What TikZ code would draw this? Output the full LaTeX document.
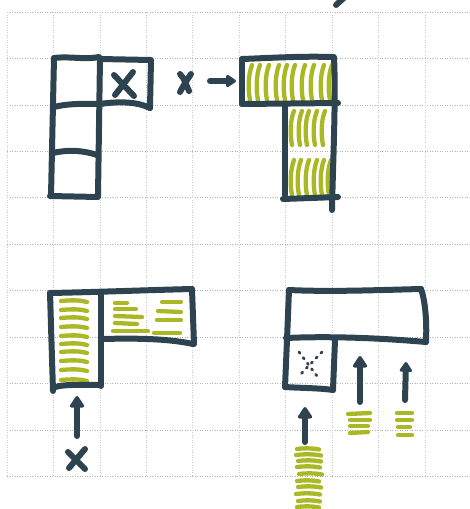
\documentclass[tikz,border=0pt]{standalone}
\usetikzlibrary{arrows.meta}
\definecolor{ink}{HTML}{2D434F}
\definecolor{lime}{HTML}{A9B824}
\begin{document}
\begin{tikzpicture}[x=1pt,y=-1pt,
  gridh/.style={draw=gray!60, line width=0.7pt, dash pattern=on 1.2pt off 1.3pt},
  gridv/.style={draw=gray!40, line width=0.7pt, dash pattern=on 1.2pt off 1.3pt},
  pen/.style={draw=ink, line width=6pt, line cap=round, line join=round},
  dotx/.style={draw=ink, line width=2.8pt, line cap=round, dash pattern=on 1.5pt off 5.5pt},
  hatch/.style={draw=lime, line width=4.3pt, line cap=round},
  arr/.style={pen, -{Triangle[length=13pt,width=16pt,round]}},
  arrs/.style={pen, -{Triangle[length=11pt,width=14pt,round]}},
]
\useasboundingbox (0,0) rectangle (470,509);
% grid
\foreach \k in {0,...,10} \draw[gridh] (7,{12+46.45*\k}) -- (470,{12+46.45*\k});
\foreach \k in {0,...,9} \draw[gridv] ({7+46.45*\k},12) -- ({7+46.45*\k},477);

% mark at top edge
\draw[pen] (336,5) -- (346,-4);

% ---------- top-left figure ----------
\draw[pen] (54,58) .. controls (70,56) and (85,60) .. (99,57);
\draw[pen] (100,59) -- (151,60) -- (150,108);
\draw[pen] (100,104) .. controls (120,101) and (138,102) .. (150,108);
\draw[pen] (54,58) -- (51,196);
\draw[pen] (100,58) -- (98,196);
\draw[pen] (54,107) .. controls (70,103) and (85,104) .. (100,104);
\draw[pen] (53,153) .. controls (70,149) and (85,151) .. (97,155);
\draw[pen] (50,196) -- (98,197);
\draw[pen] (114,75) -- (134,96);
\draw[pen] (133,72) -- (115,95);

% x ->
\draw[pen] (180,74) .. controls (185,79) and (186,85) .. (189,91);
\draw[pen] (191,74) .. controls (187,80) and (183,86) .. (180,92);
\coordinate (a0s) at (210,81);
\coordinate (a0e) at (236,81);
\draw[arrs] (a0s) -- (a0e);

% ---------- top-right figure ----------
\foreach \x in {250,258,267,277,285,293,303,312,322,330}
  \draw[hatch] (\x+2,65) .. controls (\x-2,75) and (\x-2,90) .. (\x,100);
\foreach \x in {292,300,307,315,323}
  \draw[hatch] (\x+2,111) .. controls (\x-2,120) and (\x-2,135) .. (\x,145);
\foreach \x in {292,299,307,315,322,329}
  \draw[hatch] (\x+2,160) .. controls (\x-2,170) and (\x-2,185) .. (\x,195);
\draw[pen] (242,59) .. controls (270,58) and (300,56) .. (332,57);
\draw[pen] (242,59) -- (242,104);
\draw[pen] (242,104) -- (338,103);
\draw[pen] (334,57) .. controls (336,100) and (333,160) .. (332,210);
\draw[pen] (285,105) -- (285,195);
\draw[pen] (283,199) -- (338,197);

% ---------- bottom-left figure ----------
\foreach \y in {301,310,318,327,336,344,352,361,370,380}
  \draw[hatch] (61,\y) .. controls (72,\y-1) and (80,\y-1) .. (87,\y+1);
\draw[hatch] (115,303) -- (127,303);
\draw[hatch] (115,309) -- (136,309);
\draw[hatch] (115,316) -- (142,317);
\draw[hatch] (115,323) -- (137,324);
\draw[hatch] (113,331) -- (148,331);
\draw[hatch] (162,302) -- (181,302);
\draw[hatch] (158,311) -- (181,312);
\draw[hatch] (157,320) -- (181,320);
\draw[hatch] (154,333) -- (180,333);
\draw[pen] (50,293) .. controls (100,292) and (150,290) .. (192,289);
\draw[pen] (192,289) -- (194,344);
\draw[pen] (102,339) .. controls (140,338) and (170,339) .. (193,344);
\draw[pen] (50,293) -- (53,391);
\draw[pen] (101,293) -- (101,386);
\draw[pen] (53,388) .. controls (60,384) and (80,385) .. (101,385);
\coordinate (a1s) at (77,436);
\coordinate (a1e) at (77,396);
\draw[arr] (a1s) -- (a1e);
\draw[pen] (68,452) -- (85,469);
\draw[pen] (85,449) -- (69,468);

% ---------- bottom-right figure ----------
\draw[pen] (289,290) .. controls (330,292) and (380,290) .. (421,289);
\draw[pen] (421,289) .. controls (425,300) and (427,320) .. (426,342);
\draw[pen] (289,290) -- (287,340) -- (285,387);
\draw[pen] (286,338) .. controls (330,336) and (380,338) .. (426,342);
\draw[pen] (335,340) -- (333,390);
\draw[pen] (285,387) .. controls (300,388) and (320,388) .. (333,390);
\draw[dotx] (299,352) -- (320,380);
\draw[dotx] (322,352) -- (298,377);
\coordinate (a2s) at (305,442);
\coordinate (a2e) at (305,407);
\coordinate (a3s) at (360,402);
\coordinate (a3e) at (360,356);
\coordinate (a4s) at (405,400);
\coordinate (a4e) at (406,362);
\draw[arr] (a2s) -- (a2e);
\draw[arr] (a3s) -- (a3e);
\draw[arrs] (a4s) -- (a4e);
\foreach \y/\a/\b in {449/297/319, 455/296/321, 461/298/321, 467/297/320, 474/299/322, 481/297/319, 487/298/321, 494/296/320, 501/298/320, 507/297/319}
  \draw[hatch] (\a,\y) .. controls (\a+8,\y-1) and (\b-8,\y-1) .. (\b,\y+0.5);
\draw[hatch] (348,414) -- (370,413);
\draw[hatch] (350,420) -- (370,420);
\draw[hatch] (350,426) -- (368,426);
\draw[hatch] (350,433) -- (368,432);
\draw[hatch] (397,413) -- (412,413);
\draw[hatch] (397,420) -- (412,420);
\draw[hatch] (398,427) -- (410,427);
\draw[hatch] (398,435) -- (412,435);
\end{tikzpicture}
\end{document}
